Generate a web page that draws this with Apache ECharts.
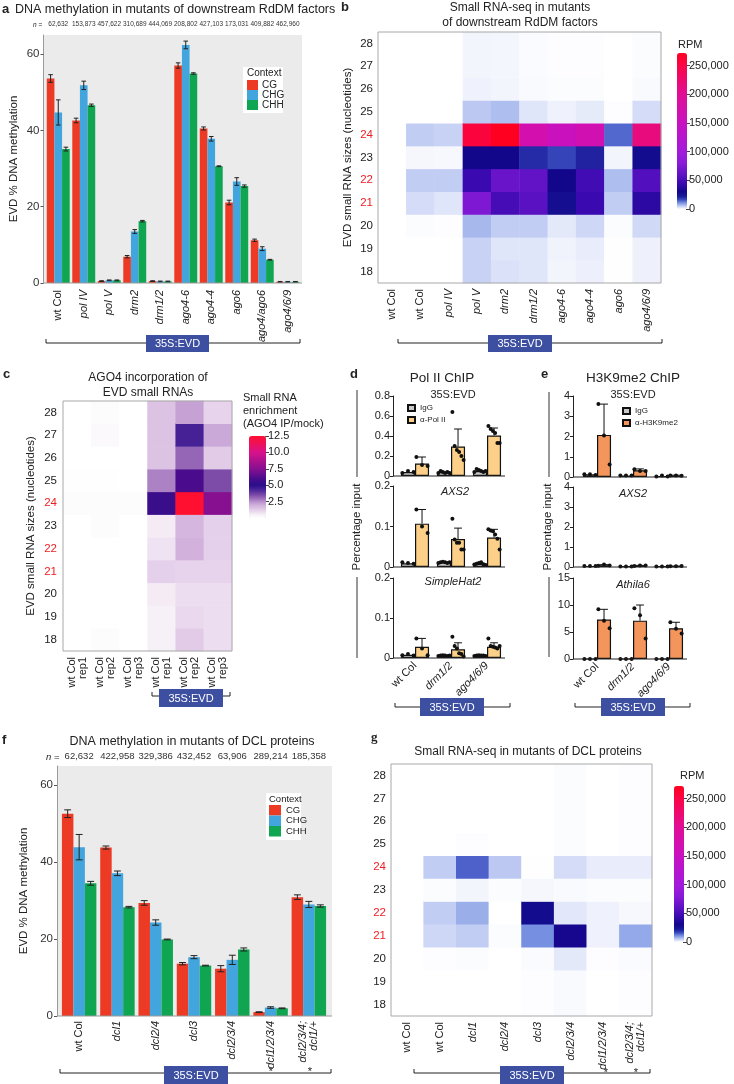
<!DOCTYPE html>
<html><head><meta charset="utf-8">
<script src="https://cdn.jsdelivr.net/npm/echarts@6/dist/echarts.min.js"></script>
<style>html,body{margin:0;padding:0;background:#fff}#c{width:734px;height:1084px}</style>
</head><body><div id="c"></div>
<script>
// ================= DATA =================
const contexts = ['CG', 'CHG', 'CHH'];
// Panel a
const aCats = ['wt Col','pol IV','pol V','drm2','drm1/2','ago4-6','ago4-4','ago6','ago4/ago6','ago4/6/9'];
const aN = ['62,632','153,873','457,622','310,689','444,069','208,802','427,103','173,031','409,882','462,960'];
const aCG  = [53.6, 42.6, 0.5, 6.9, 0.5, 57.0, 40.5, 21.1, 11.2, 0.3];
const aCHG = [44.7, 51.8, 0.7, 13.5, 0.4, 62.4, 37.8, 26.6, 9.0, 0.3];
const aCHH = [35.1, 46.6, 0.7, 16.2, 0.4, 54.9, 30.6, 25.4, 6.1, 0.3];
const aCGErr  = [1.0, 0.6, 0.1, 0.3, 0.1, 0.7, 0.4, 0.6, 0.3, 0.1];
const aCHGErr = [3.3, 1.1, 0.1, 0.5, 0.1, 1.0, 0.6, 1.0, 0.5, 0.1];
const aCHHErr = [0.5, 0.3, 0.1, 0.2, 0.1, 0.2, 0.1, 0.3, 0.1, 0.1];
// Heatmap row labels (small RNA sizes, bottom to top)
const sizes = ['18','19','20','21','22','23','24','25','26','27','28'];
const redSizes = ['21','22','24'];
// Panel b: RPM per column, sizes 18..28
const bCats = ['wt Col','wt Col','pol IV','pol V','drm2','drm1/2','ago4-6','ago4-4','ago6','ago4/6/9'];
const bRPM = [
  [0,0,0,0,0,0,0,0,0,0,0],
  [0,0,300,3500,5000,800,5000,0,0,0,0],
  [0,0,200,2500,5000,700,4500,0,0,0,0],
  [4500,4500,7000,75000,45000,30000,255000,5500,1300,1000,1000],
  [3000,2500,5000,50000,65000,30000,272000,6500,1000,900,900],
  [2500,2500,5000,58000,62000,20000,172000,2500,500,400,400],
  [1000,1200,2200,27000,30000,17000,152000,1300,300,200,200],
  [1500,1800,4000,45000,48000,21000,168000,2000,300,200,200],
  [100,100,300,5000,6500,1000,14000,200,0,0,0],
  [1400,1400,3800,40000,55000,28000,215000,3500,500,300,300]
];
// Panel c: AGO4 IP/mock enrichment per column, sizes 18..28
const cCats = ['wt Col\nrep1','wt Col\nrep2','wt Col\nrep3','wt Col\nrep1','wt Col\nrep2','wt Col\nrep3'];
const cEnrich = [
  [0,0,0,0,0,0,0.1,0.05,0,0,0],
  [0.1,0,0,0,0,0.1,0.1,0.05,0,0.2,0.1],
  [0,0,0,0,0,0,0.1,0,0,0,0],
  [0.5,0.5,0.6,1.2,0.8,0.6,5.5,2.7,1.5,1.5,1.5],
  [1.3,1.0,0.9,1.1,1.9,1.8,12.5,6.0,3.1,4.4,2.2],
  [0.9,0.9,0.9,1.1,1.2,1.2,7.5,3.5,1.3,2.1,1.1]
];
// Panels d & e
const chipCats = ['wt Col','drm1/2','ago4/6/9'];
const pol35IgG = [0.04, 0.04, 0.05];
const pol35IgGDots = [[0.03,0.05,0.04],[0.03,0.05,0.04,0.03,0.04,0.03],[0.04,0.07,0.06,0.05,0.04,0.05]];
const pol35Ab = [0.125, 0.295, 0.405];
const pol35AbErr = [0.065, 0.175, 0.075];
const pol35AbDots = [[0.19,0.11,0.10],[0.64,0.30,0.26,0.24,0.20,0.16],[0.50,0.47,0.45,0.43,0.33,0.33]];
const polAxsIgG = [0.009, 0.012, 0.008];
const polAxsIgGDots = [[0.012,0.01,0.008],[0.01,0.012,0.013,0.012,0.01,0.012],[0.006,0.008,0.01,0.012,0.007,0.005]];
const polAxsAb = [0.107, 0.069, 0.073];
const polAxsAbErr = [0.035, 0.027, 0.02];
const polAxsAbDots = [[0.142,0.10,0.084],[0.119,0.068,0.06,0.06,0.043,0.043],[0.093,0.09,0.088,0.08,0.07,0.043]];
const polShIgG = [0.008, 0.006, 0.006];
const polShIgGDots = [[0.007,0.01,0.006],[0.005,0.006,0.007,0.006,0.005,0.006],[0.005,0.006,0.007,0.006,0.006,0.005]];
const polShAb = [0.028, 0.022, 0.028];
const polShAbErr = [0.021, 0.016, 0.01];
const polShAbDots = [[0.049,0.024,0.007],[0.053,0.03,0.024,0.012,0.01,0.004],[0.049,0.03,0.028,0.026,0.024,0.03]];
const k935IgG = [0.13, 0.07, 0.03];
const k935IgGDots = [[0.13,0.13,0.10],[0.07,0.07,0.07],[0.02,0.07,0.02]];
const k935Ab = [2.08, 0.33, 0.07];
const k935AbErr = [1.52, 0.07, 0.02];
const k935AbDots = [[3.6,2.05,0.62],[0.38,0.30,0.30],[0.08,0.08,0.06]];
const k9AxsIgG = [0.05, 0.03, 0.03];
const k9AxsIgGDots = [[0.05,0.05,0.05],[0.03,0.03,0.03],[0.03,0.03,0.03]];
const k9AxsAb = [0.09, 0.07, 0.04];
const k9AxsAbErr = [0.03, 0.01, 0.01];
const k9AxsAbDots = [[0.06,0.12,0.08],[0.05,0.08,0.08],[0.04,0.04,0.05]];
const k9AthIgG = [0, 0, 0];
const k9AthIgGDots = [[0,0,0],[0,0,0],[0,0,0]];
const k9AthAb = [7.3, 7.1, 5.7];
const k9AthAbErr = [1.9, 2.9, 1.1];
const k9AthAbDots = [[9.2,7.1,5.7],[9.4,8.1,3.8],[6.8,5.6,4.7]];
// Panel f
const fCats = ['wt Col','dcl1','dcl2/4','dcl3','dcl2/3/4','dcl1/2/3/4','dcl2/3/4;\ndcl1/+'];
const fN = ['62,632','422,958','329,386','432,452','63,906','289,214','185,358'];
const fCG  = [52.6, 43.8, 29.4, 13.6, 12.3, 1.0, 30.9];
const fCHG = [43.9, 37.1, 24.3, 15.3, 14.6, 2.2, 29.0];
const fCHH = [34.5, 28.3, 19.9, 13.1, 17.3, 2.0, 28.6];
const fCGErr  = [1.0, 0.4, 0.6, 0.3, 0.8, 0.1, 0.6];
const fCHGErr = [3.3, 0.6, 0.7, 0.4, 1.2, 0.2, 0.8];
const fCHHErr = [0.5, 0.2, 0.1, 0.1, 0.4, 0.1, 0.3];
// Panel g: RPM per column, sizes 18..28
const gCats = ['wt Col','wt Col','dcl1','dcl2/4','dcl3','dcl2/3/4','dcl1/2/3/4','dcl2/3/4;\ndcl1/+'];
const gRPM = [
  [0,0,0,0,0,0,0,0,0,0,0],
  [0,0,200,4000,5000,300,5000,0,0,0,0],
  [0,0,300,5000,8000,1000,14500,200,0,0,0],
  [0,0,0,300,0,300,5500,0,0,0,0],
  [200,200,400,11000,28000,800,100,0,0,0,0],
  [500,500,2200,32000,2300,500,3500,300,300,300,300],
  [0,0,200,1300,1300,300,1800,0,0,0,0],
  [200,200,400,8500,700,300,1800,200,200,200,200]
];
const rpmTicks = [0, 50000, 100000, 150000, 200000, 250000];
const enrichTicks = [2.5, 5, 7.5, 10, 12.5];

// ================= STYLE HELPERS =================
const FONT = "'Liberation Sans', Arial, Helvetica, sans-serif";
const ctxColors = ['#ec3a25', '#42a5de', '#10a550'];
const RPM_ANCHORS = [[0,'#ffffff'],[2000,'#e6ebfa'],[5000,'#c2cdf3'],[8000,'#9aaeea'],[12000,'#6a84dc'],[16000,'#3c4cc0'],[22000,'#1a1a9a'],[30000,'#12078a'],[45000,'#3a0ab0'],[60000,'#5e12c4'],[80000,'#8a1ad8'],[100000,'#a31adb'],[150000,'#c811c0'],[200000,'#e00e96'],[250000,'#fa0546'],[272000,'#ff0020']];
const ENR_ANCHORS = [[0,'#ffffff'],[0.5,'#f6f0f7'],[1,'#ead9ee'],[1.5,'#dcc2e3'],[2,'#cfaeda'],[2.5,'#b890cc'],[3,'#9a6cb8'],[3.5,'#7c4ca8'],[4.2,'#50289a'],[5,'#2a0e8a'],[6,'#4a0c8c'],[7.5,'#861090'],[10,'#d8128a'],[12.5,'#ff1030']];
function hex2rgb(h){return [parseInt(h.slice(1,3),16),parseInt(h.slice(3,5),16),parseInt(h.slice(5,7),16)];}
function ramp(anchors, max, n){
  const out=[];
  for(let i=0;i<n;i++){
    const v=max*i/(n-1); let k=0;
    while(k<anchors.length-2 && v>anchors[k+1][0]) k++;
    const v0=anchors[k][0], v1=anchors[k+1][0];
    const t=Math.min(1,Math.max(0,(v-v0)/(v1-v0)));
    const a=hex2rgb(anchors[k][1]), b=hex2rgb(anchors[k+1][1]);
    out.push('rgb('+a.map((x,j)=>Math.round(x+(b[j]-x)*t)).join(',')+')');
  }
  return out;
}
function commas(v){return String(Math.round(v)).replace(/\B(?=(\d{3})+(?!\d))/g, ',');}
const RICH = {i:{fontStyle:'italic',fontSize:11,color:'#222',fontFamily:FONT}};
function fmtItalic(plain){return v => plain.indexOf(v)>=0 ? v : String(v).split('\n').map(s=>'{i|'+s+'}').join('\n');}
const sizeColor = v => redSizes.indexOf(v)>=0 ? '#ee1d23' : '#222';

const grids=[], xAxes=[], yAxes=[], series=[], gEls=[], vmaps=[], legends=[];
function addGrid(l,t,w,h){grids.push({left:l,top:t,width:w,height:h,containLabel:false,show:false});return grids.length-1;}
function txt(s,x,y,o){
  o=o||{};
  const el={type:'text',x:x,y:y,rotation:o.rot||0,z:20,style:{text:s,fill:o.color||'#222',
    font:(o.style||'normal')+' '+(o.weight||'normal')+' '+(o.size||12)+'px '+(o.family||FONT),
    textAlign:o.align||'left',textVerticalAlign:'middle'}};
  if(o.rich) el.style.rich=o.rich;
  gEls.push(el);
}
function bracket(x1,x2,y,bx1,bx2,by1,by2){
  gEls.push({type:'polyline',z:15,shape:{points:[[x1,y-4],[x1,y],[x2,y],[x2,y-4]]},style:{stroke:'#222',lineWidth:1,fill:null}});
  gEls.push({type:'rect',z:16,shape:{x:bx1,y:by1,width:bx2-bx1,height:by2-by1},style:{fill:'#3d4fa1'}});
  txt('35S:EVD',(bx1+bx2)/2,(by1+by2)/2+0.5,{color:'#fff',size:11,align:'center'});
}
function symErr(nBars,gap){
  return function(params,api){
    const cat=api.value(0),k=api.value(1),v=api.value(2),e=api.value(3);
    const band=api.size([1,0])[0]; const bw=band*(1-gap)/nBars;
    const p=api.coord([cat,v]); const x=p[0]+(k-(nBars-1)/2)*bw;
    const yt=api.coord([cat,v+e])[1], yb=api.coord([cat,Math.max(0,v-e)])[1];
    const hw=bw*0.3, st={stroke:'#222',lineWidth:1};
    return {type:'group',children:[
      {type:'line',shape:{x1:x,y1:yt,x2:x,y2:yb},style:st},
      {type:'line',shape:{x1:x-hw,y1:yt,x2:x+hw,y2:yt},style:st},
      {type:'line',shape:{x1:x-hw,y1:yb,x2:x+hw,y2:yb},style:st}]};
  };
}
function upErr(nBars,gap){
  return function(params,api){
    const cat=api.value(0),k=api.value(1),v=api.value(2),e=api.value(3);
    const band=api.size([1,0])[0]; const bw=band*(1-gap)/nBars;
    const p=api.coord([cat,v]); const x=p[0]+(k-(nBars-1)/2)*bw;
    const yt=api.coord([cat,v+e])[1]; const hw=bw*0.28, st={stroke:'#111',lineWidth:1};
    return {type:'group',children:[
      {type:'line',shape:{x1:x,y1:p[1],x2:x,y2:yt},style:st},
      {type:'line',shape:{x1:x-hw,y1:yt,x2:x+hw,y2:yt},style:st}]};
  };
}
function dotRender(nBars,gap){
  return function(params,api){
    const cat=api.value(0),k=api.value(1),v=api.value(2),j=api.value(3),n=api.value(4);
    const band=api.size([1,0])[0]; const bw=band*(1-gap)/nBars;
    const p=api.coord([cat,v]); const cx=p[0]+(k-(nBars-1)/2)*bw;
    const dx = n>1 ? (j/(n-1)-0.5)*bw*0.8 : 0;
    return {type:'circle',shape:{cx:cx+dx,cy:p[1],r:2},style:{fill:'#111'}};
  };
}

// ---------- methylation bar panel ----------
function methPanel(o){
  const g=addGrid(o.left,o.top,o.width,o.height);
  gEls.push({type:'rect',z:-5,shape:{x:o.bgX,y:o.top,width:o.bgW,height:o.height},style:{fill:'#ebebeb'}});
  gEls.push({type:'line',z:5,shape:{x1:o.bgX,y1:o.top+o.height,x2:o.bgX+o.bgW,y2:o.top+o.height},style:{stroke:'#9a9a9a',lineWidth:1}});
  const xi=xAxes.push({gridIndex:g,type:'category',data:o.cats,axisLine:{show:false},axisTick:{show:false},
    axisLabel:{interval:0,rotate:90,fontSize:11,margin:o.lblMargin,color:'#222',formatter:fmtItalic(['wt Col']),rich:RICH}})-1;
  xAxes.push({gridIndex:g,type:'category',position:'top',data:o.n,axisLine:{show:false},axisTick:{show:false},
    axisLabel:{interval:0,fontSize:o.nSize,margin:o.nMargin,color:'#333'}});
  const yi=yAxes.push({gridIndex:g,type:'value',min:0,max:65,interval:20,offset:o.offset,
    axisLine:{show:true,lineStyle:{color:'#9a9a9a'}},
    axisTick:{show:true,length:3,lineStyle:{color:'#555'},customValues:[0,20,40,60]},
    axisLabel:{fontSize:11.5,color:'#333',margin:4,customValues:[0,20,40,60]},splitLine:{show:false},
    name:'EVD % DNA methylation',nameLocation:'middle',nameGap:o.nameGap,nameTextStyle:{fontSize:11.5,color:'#222'}})-1;
  o.vals.forEach((v,k)=>series.push({name:contexts[k],type:'bar',xAxisIndex:xi,yAxisIndex:yi,data:v,
    barGap:'0%',barCategoryGap:'10%',itemStyle:{color:ctxColors[k]}}));
  const ed=[]; o.errs.forEach((e,k)=>e.forEach((ev,i)=>ed.push([i,k,o.vals[k][i],ev])));
  series.push({type:'custom',xAxisIndex:xi,yAxisIndex:yi,data:ed,encode:{x:0,y:2},renderItem:symErr(3,0.1),z:3});
}
methPanel({left:45.5,top:35,width:255,height:248,bgX:43.5,bgW:258.5,offset:2,cats:aCats,n:aN,nSize:6.5,nMargin:7,
  lblMargin:7,nameGap:24,vals:[aCG,aCHG,aCHH],errs:[aCGErr,aCHGErr,aCHHErr]});
methPanel({left:60,top:766,width:268,height:250,bgX:57,bgW:275,offset:3,cats:fCats,n:fN,nSize:9.5,nMargin:5,
  lblMargin:5,nameGap:27,vals:[fCG,fCHG,fCHH],errs:[fCGErr,fCHGErr,fCHHErr]});

// ---------- heatmap panel ----------
function heatPanel(o){
  const g=addGrid(o.left,o.top,o.width,o.height);
  const xi=xAxes.push({gridIndex:g,type:'category',data:o.cats,axisLine:{show:false},axisTick:{show:false},splitLine:{show:false},
    axisLabel:{interval:0,rotate:90,fontSize:11,margin:o.lblMargin,color:'#222',formatter:o.italic?fmtItalic(['wt Col']):undefined,rich:RICH}})-1;
  const ya={gridIndex:g,type:'category',data:sizes,axisLine:{show:false},axisTick:{show:false},splitLine:{show:false},
    axisLabel:{fontSize:11.5,margin:o.yMargin,color:sizeColor}};
  if(o.yName){ya.name=o.yName;ya.nameLocation='middle';ya.nameGap=o.nameGap;ya.nameTextStyle={fontSize:11.5,color:'#222'};}
  const yi=yAxes.push(ya)-1;
  const d=[]; o.values.forEach((col,x)=>col.forEach((v,y)=>d.push([x,y,v])));
  const si=series.push({type:'heatmap',xAxisIndex:xi,yAxisIndex:yi,data:d,itemStyle:{borderWidth:0},emphasis:{disabled:true}})-1;
  gEls.push({type:'rect',z:10,shape:{x:o.left,y:o.top,width:o.width,height:o.height},style:{fill:null,stroke:'#a8a8a8',lineWidth:1}});
  vmaps.push({type:'continuous',seriesIndex:si,min:0,max:o.max,left:o.cb[0],top:o.cb[1],itemWidth:o.cb[2],itemHeight:o.cb[3],
    padding:0,calculable:false,hoverLink:false,inRange:{color:o.colors}});
  const cg=addGrid(o.cb[0]+o.cb[2]-1,o.cb[1],1,o.cb[3]);
  xAxes.push({gridIndex:cg,type:'value',show:false});
  yAxes.push({gridIndex:cg,type:'value',position:'right',min:0,max:o.max,interval:o.tickStep,
    axisLine:{show:false},splitLine:{show:false},
    axisTick:{show:true,length:4,lineStyle:{color:'#444'},customValues:o.ticks},
    axisLabel:{fontSize:11,color:'#222',margin:2,customValues:o.ticks,formatter:o.tickFmt}});
}
const rpmColors = ramp(RPM_ANCHORS, 272000, 273);
const enrColors = ramp(ENR_ANCHORS, 12.5, 126);
heatPanel({left:378,top:32,width:283,height:251,cats:bCats,italic:true,lblMargin:6,yMargin:5,values:bRPM,max:272000,
  yName:'EVD small RNA sizes (nucleotides)',nameGap:24,cb:[677,53,10,156],colors:rpmColors,tickStep:50000,ticks:rpmTicks,tickFmt:commas});
heatPanel({left:63,top:401,width:169,height:250,cats:cCats,italic:false,lblMargin:6,yMargin:6,values:cEnrich,max:12.5,
  yName:'EVD small RNA sizes (nucleotides)',nameGap:26,cb:[249,436,17,82],colors:enrColors,tickStep:2.5,ticks:enrichTicks,tickFmt:v=>v.toFixed(1)});
heatPanel({left:391,top:764,width:261,height:252,cats:gCats,italic:true,lblMargin:6,yMargin:5,values:gRPM,max:272000,
  cb:[674,786,10,156],colors:rpmColors,tickStep:50000,ticks:rpmTicks,tickFmt:commas});

// ---------- ChIP subplots ----------
function chip(o){
  const g=addGrid(o.left,o.top,o.width,o.height);
  const xi=xAxes.push({gridIndex:g,type:'category',data:chipCats,axisLine:{show:false},axisTick:{show:false},
    axisLabel:o.showX?{interval:0,rotate:45,fontSize:11,color:'#222',margin:6,formatter:fmtItalic(['wt Col']),rich:RICH}:{show:false}})-1;
  const yi=yAxes.push({gridIndex:g,type:'value',min:0,max:o.max,interval:o.step,offset:o.offset,
    axisLine:{show:true,lineStyle:{color:'#222',width:1}},
    axisTick:{show:true,length:3,lineStyle:{color:'#222'},customValues:o.ticks},
    axisLabel:{fontSize:11,color:'#222',margin:3,customValues:o.ticks,formatter:o.fmt},splitLine:{show:false}})-1;
  series.push({name:'IgG',type:'bar',xAxisIndex:xi,yAxisIndex:yi,data:o.igg,barGap:'0%',barCategoryGap:'22%',
    itemStyle:{color:'#c9c9c9',borderColor:'#111',borderWidth:1.2}});
  series.push({name:o.abName,type:'bar',xAxisIndex:xi,yAxisIndex:yi,data:o.ab,barGap:'0%',barCategoryGap:'22%',
    itemStyle:{color:o.color,borderColor:'#111',borderWidth:1.2}});
  const ed=o.ab.map((v,i)=>[i,1,v,o.abErr[i]]);
  series.push({type:'custom',xAxisIndex:xi,yAxisIndex:yi,data:ed,encode:{x:0,y:2},renderItem:upErr(2,0.22),z:3});
  const dd=[];
  [o.iggDots,o.abDots].forEach((grp,k)=>grp.forEach((pts,i)=>pts.forEach((v,j)=>dd.push([i,k,v,j,pts.length]))));
  series.push({type:'custom',xAxisIndex:xi,yAxisIndex:yi,data:dd,encode:{x:0,y:2},renderItem:dotRender(2,0.22),z:4});
  gEls.push({type:'line',z:6,shape:{x1:o.left-o.offset,y1:o.top+o.height,x2:o.left+o.width,y2:o.top+o.height},style:{stroke:'#222',lineWidth:1}});
}
const f1 = v => v===0 ? '0' : v.toFixed(1);
const f0 = v => String(Math.round(v));
const polColor='#fcd089', k9Color='#f4955b';
chip({left:397,top:396,width:108,height:80,offset:4,max:0.8,step:0.2,ticks:[0,0.2,0.4,0.6,0.8],fmt:f1,
  igg:pol35IgG,iggDots:pol35IgGDots,ab:pol35Ab,abErr:pol35AbErr,abDots:pol35AbDots,abName:'α-Pol II',color:polColor});
chip({left:397,top:486,width:108,height:81,offset:4,max:0.2,step:0.1,ticks:[0,0.1,0.2],fmt:f1,
  igg:polAxsIgG,iggDots:polAxsIgGDots,ab:polAxsAb,abErr:polAxsAbErr,abDots:polAxsAbDots,abName:'α-Pol II',color:polColor});
chip({left:397,top:578,width:108,height:80,offset:4,max:0.2,step:0.1,ticks:[0,0.1,0.2],fmt:f1,showX:true,
  igg:polShIgG,iggDots:polShIgGDots,ab:polShAb,abErr:polShAbErr,abDots:polShAbDots,abName:'α-Pol II',color:polColor});
chip({left:579,top:396,width:108,height:81,offset:6,max:4,step:1,ticks:[0,1,2,3,4],fmt:f0,
  igg:k935IgG,iggDots:k935IgGDots,ab:k935Ab,abErr:k935AbErr,abDots:k935AbDots,abName:'α-H3K9me2',color:k9Color});
chip({left:579,top:487,width:108,height:80,offset:6,max:4,step:1,ticks:[0,1,2,3,4],fmt:f0,
  igg:k9AxsIgG,iggDots:k9AxsIgGDots,ab:k9AxsAb,abErr:k9AxsAbErr,abDots:k9AxsAbDots,abName:'α-H3K9me2',color:k9Color});
chip({left:579,top:578,width:108,height:81,offset:6,max:15,step:5,ticks:[0,5,10,15],fmt:f0,showX:true,
  igg:k9AthIgG,iggDots:k9AthIgGDots,ab:k9AthAb,abErr:k9AthAbErr,abDots:k9AthAbDots,abName:'α-H3K9me2',color:k9Color});

// ---------- legends ----------
gEls.push({type:'rect',z:-1,shape:{x:243,y:67,width:40,height:46},style:{fill:'#fff'}});
gEls.push({type:'rect',z:-1,shape:{x:266,y:793,width:35,height:47},style:{fill:'#fff'}});
txt('Context',247,73.5,{size:10});
txt('Context',269,799,{size:9.5});
legends.push({data:contexts,orient:'vertical',left:247,top:80,itemWidth:11,itemHeight:10,itemGap:0,icon:'rect',padding:0,
  selectedMode:false,textStyle:{fontSize:10,color:'#222',lineHeight:10,padding:[0,0,0,-1]}});
legends.push({data:contexts,orient:'vertical',left:269,top:805,itemWidth:12,itemHeight:10.5,itemGap:0,icon:'rect',padding:0,
  selectedMode:false,textStyle:{fontSize:9.5,color:'#222',lineHeight:10.5}});
legends.push({data:['IgG','α-Pol II'],orient:'vertical',left:407,top:404,itemWidth:7,itemHeight:6,itemGap:4,icon:'rect',padding:0,
  selectedMode:false,textStyle:{fontSize:8,color:'#222'}});
legends.push({data:['IgG','α-H3K9me2'],orient:'vertical',left:622,top:407,itemWidth:7,itemHeight:6,itemGap:4,icon:'rect',padding:0,
  selectedMode:false,textStyle:{fontSize:8,color:'#222'}});

// ---------- texts ----------
txt('a',2,9,{weight:'bold',size:13});
txt('DNA methylation in mutants of downstream RdDM factors',15,10,{size:12.5});
txt('{i|n} =',33,25,{size:6.5,rich:{i:{fontStyle:'italic',fontSize:6.5,fontFamily:FONT}}});
txt('b',341,7,{weight:'bold',size:13});
txt('Small RNA-seq in mutants',520,8,{size:12,align:'center'});
txt('of downstream RdDM factors',520,23,{size:12,align:'center'});
txt('RPM',678,45,{size:11});
txt('c',3,374,{weight:'bold',size:13});
txt('AGO4 incorporation of',148,378,{size:12,align:'center'});
txt('EVD small RNAs',148,392.5,{size:12,align:'center'});
txt('Small RNA',243,398,{size:11});
txt('enrichment',243,411,{size:11});
txt('(AGO4 IP/mock)',243,424,{size:11});
txt('d',350,374,{weight:'bold',size:13});
txt('Pol II ChIP',442,378,{size:13.5,align:'center'});
txt('35S:EVD',453,395,{size:11,align:'center'});
txt('AXS2',455,492,{size:11,align:'center',style:'italic'});
txt('SimpleHat2',453,582,{size:11,align:'center',style:'italic'});
txt('e',541,374,{weight:'bold',size:13});
txt('H3K9me2 ChIP',633,378,{size:13.5,align:'center'});
txt('35S:EVD',633,395,{size:11,align:'center'});
txt('AXS2',633,494,{size:11,align:'center',style:'italic'});
txt('Athila6',633,585,{size:11,align:'center',style:'italic'});
txt('Percentage input',357,527,{size:11.5,align:'center',rot:Math.PI/2});
txt('Percentage input',548,527,{size:11.5,align:'center',rot:Math.PI/2});
[[357,390,477],[357,577,658],[549,392,477],[549,577,657]].forEach(l=>gEls.push({type:'line',z:6,shape:{x1:l[0],y1:l[1],x2:l[0],y2:l[2]},style:{stroke:'#333',lineWidth:1}}));
txt('f',2,740,{weight:'bold',size:13});
txt('DNA methylation in mutants of DCL proteins',192,742,{size:12.5,align:'center'});
txt('{i|n} =',46,757,{size:9.5,rich:{i:{fontStyle:'italic',fontSize:9.5,fontFamily:FONT}}});
txt('g',371,738,{weight:'bold',size:13,family:"'Liberation Serif', serif"});
txt('Small RNA-seq in mutants of DCL proteins',528,752,{size:12,align:'center'});
txt('RPM',680,776,{size:11});
txt('*',271,1072,{size:11,align:'center'});
txt('*',310,1072,{size:11,align:'center'});
txt('*',606,1073,{size:11,align:'center'});
txt('*',636,1073,{size:11,align:'center'});

// ---------- brackets ----------
bracket(46,300,343,146,209,335,352);
bracket(398,662,343,488,552,335,352);
bracket(152,230,696,159,223,689,707);
bracket(395,510,707,420,484,698,716);
bracket(575,690,707,601,665,698,716);
bracket(60,331,1073,164,228,1066,1084);
bracket(414,650,1073,500,564,1066,1084);

const chart = echarts.init(document.getElementById('c'), null, {renderer:'canvas'});
chart.setOption({
  animation:false,
  backgroundColor:'#fff',
  textStyle:{fontFamily:FONT},
  grid:grids, xAxis:xAxes, yAxis:yAxes, series:series,
  visualMap:vmaps, legend:legends,
  graphic:{elements:gEls}
});
</script></body></html>
